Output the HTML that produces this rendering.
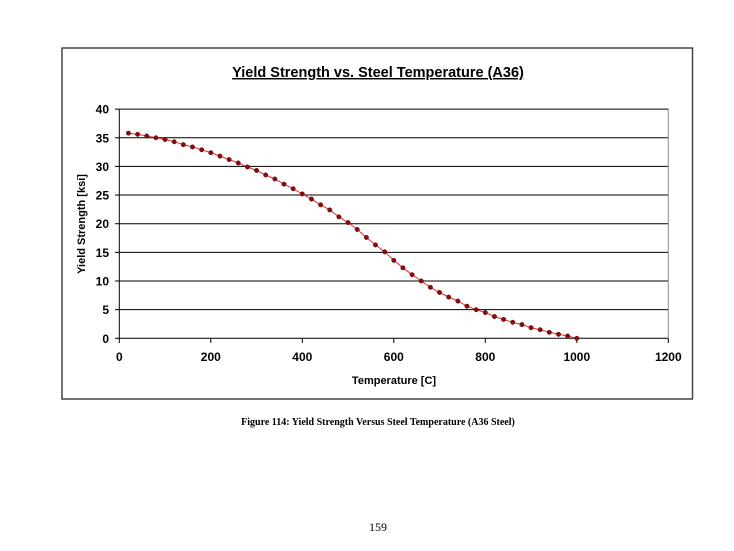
<!DOCTYPE html>
<html><head><meta charset="utf-8"><style>
body{margin:0;background:#fff;width:734px;height:551px;overflow:hidden}
svg{display:block}
</style></head><body>
<svg id="s" width="734" height="551" xmlns="http://www.w3.org/2000/svg" font-family="Liberation Sans, sans-serif">
<rect x="62" y="48" width="630.5" height="351" fill="#fff" stroke="#444" stroke-width="1.5"/>
<text x="378" y="77" text-anchor="middle" font-size="14.5" font-weight="bold" text-decoration="underline">Yield Strength vs. Steel Temperature (A36)</text>
<g id="grid" stroke="#000" stroke-width="1"></g>
<g id="labels" font-size="12" font-weight="bold" fill="#000"></g>
<text transform="translate(85,224) rotate(-90)" text-anchor="middle" font-size="11" font-weight="bold">Yield Strength [ksi]</text>
<text x="394" y="384" text-anchor="middle" font-size="11" font-weight="bold">Temperature [C]</text>
<g id="data"></g>
<text x="378" y="425" text-anchor="middle" font-family="Liberation Serif, serif" font-size="10" font-weight="bold">Figure 114: Yield Strength Versus Steel Temperature (A36 Steel)</text>
<text x="378" y="531" text-anchor="middle" font-family="Liberation Serif, serif" font-size="12">159</text>
</svg>
<script>
var NS="http://www.w3.org/2000/svg";
function el(p,t,a,txt){var e=document.createElementNS(NS,t);for(var k in a)e.setAttribute(k,a[k]);if(txt!==undefined)e.textContent=txt;p.appendChild(e);return e;}
var X=function(v){return 119.3+v*0.4575;},Y=function(v){return 338.3-v*5.73;};
var g=document.getElementById('grid'),L=document.getElementById('labels'),D=document.getElementById('data');
for(var v=0;v<=40;v+=5){var y=Y(v);el(g,'line',{x1:119.3,x2:668.3,y1:y,y2:y});el(g,'line',{x1:115,x2:119.3,y1:y,y2:y});el(L,'text',{x:109,y:y+4.5,'text-anchor':'end'},v);}
el(g,'line',{x1:119.3,x2:119.3,y1:Y(40),y2:338.3});
el(g,'line',{x1:668.3,x2:668.3,y1:Y(40),y2:338.3,stroke:'#888'});
for(var t=0;t<=1200;t+=200){var x=X(t);el(g,'line',{x1:x,x2:x,y1:338.3,y2:343});el(L,'text',{x:x,y:361,'text-anchor':'middle'},t);}
var vals=[35.8,35.6,35.3,35,34.7,34.3,33.8,33.4,32.9,32.4,31.8,31.2,30.6,29.9,29.3,28.5,27.8,26.9,26.1,25.2,24.3,23.3,22.4,21.2,20.2,19,17.6,16.3,15.1,13.6,12.3,11.1,10,8.9,8,7.2,6.5,5.6,5,4.5,3.8,3.3,2.8,2.4,1.85,1.5,1.05,0.7,0.4,0];
var pts=vals.map(function(v,i){return X(20+20*i).toFixed(1)+','+Y(v).toFixed(1);});
el(D,'polyline',{points:pts.join(' '),fill:'none',stroke:'#e03030','stroke-width':1});
vals.forEach(function(v,i){el(D,'circle',{cx:X(20+20*i),cy:Y(v),r:2.2,fill:'#8b0c10',stroke:'#500','stroke-width':0.5});});
</script>
</body></html>
